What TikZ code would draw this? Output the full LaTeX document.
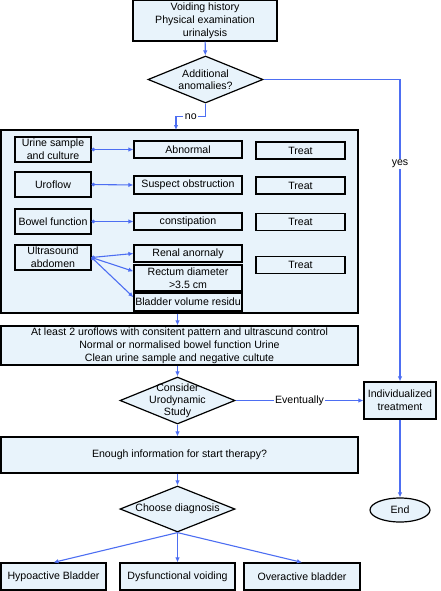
\documentclass[tikz,border=0pt]{standalone}
\usepackage{fontspec}
\setmainfont{Liberation Sans}
\usetikzlibrary{shapes.geometric,arrows.meta}
\definecolor{boxfill}{HTML}{E8F3FB}
\definecolor{flowblue}{HTML}{4D6EF2}
\tikzset{
  box/.style={draw=black, line width=1.2pt, fill=boxfill, align=center, inner sep=0pt,
    font=\fontsize{10.6}{12.8}\selectfont},
  exam/.style={box, minimum width=76pt, minimum height=25pt},
  finding/.style={box, minimum width=108pt, minimum height=17pt},
  treat/.style={box, minimum width=89pt, minimum height=17pt},
  decision/.style={draw=black, line width=1.2pt, fill=boxfill, diamond, inner sep=0pt,
    minimum width=115pt, minimum height=47pt},
  dtext/.style={align=center, inner sep=0pt, font=\fontsize{10.6}{12}\selectfont},
  conn/.style={flowblue, line width=1.1pt, -{Latex[length=5pt,width=4.5pt]}},
  dotconn/.style={conn, {Circle[length=3.5pt]}-{Latex[length=5pt,width=4.5pt]}},
  lbl/.style={fill=white, inner sep=1.5pt, text=black, font=\fontsize{10.6}{12.8}\selectfont}
}
\begin{document}
\begin{tikzpicture}[x=1pt,y=-1pt]
  \useasboundingbox (0,0) rectangle (440,591);
  % Start and first question
  \node[box, minimum width=144pt, minimum height=41pt] (history) at (205,20.5)
    {Voiding history\\Physical examination\\urinalysis};
  \node[decision, label={[dtext]center:Additional\\anomalies?}] (anomalies) at (205.5,79.5) {};
  \coordinate (noend) at (176,130);
  % Examinations block
  \node[box, minimum width=357pt, minimum height=183pt] (exams) at (179.5,221.5) {};
  \node[exam] (urine) at (53,149.5) {Urine sample\\and culture};
  \node[exam] (uroflow) at (53,184.5) {Uroflow};
  \node[exam] (bowel) at (53,221.5) {Bowel function};
  \node[exam] (ultra) at (53,257.5) {Ultrasound\\abdomen};
  \node[finding] (abnormal) at (188,149.5) {Abnormal};
  \node[finding, minimum height=18pt] (obstruct) at (188,185) {Suspect obstruction};
  \node[finding] (constip) at (188,221.5) {constipation};
  \node[finding] (renal) at (188,253.5) {Renal anornaly};
  \node[finding, minimum height=26pt] (rectum) at (188,278) {Rectum diameter\\>3.5 cm};
  \node[finding, minimum height=18pt] (bladder) at (188,302) {Bladder volume residu};
  \foreach \i/\y in {1/150.5, 2/185.5, 3/222, 4/265}
    \node[treat] (treat\i) at (300.5,\y) {Treat};
  % Findings
  \draw[dotconn] (urine.east) -- (abnormal.west);
  \draw[dotconn] (uroflow.east) -- (obstruct.west);
  \draw[dotconn] (bowel.east) -- (constip.west);
  \draw[dotconn] (ultra.east) -- (renal.west);
  \draw[dotconn] (ultra.east) -- (rectum.173);
  \draw[dotconn] (ultra.east) -- (bladder.175);
  % Lower part of the flow
  \node[box, minimum width=357pt, minimum height=39pt] (criteria) at (179.5,345.5)
    {At least 2 uroflows with consitent pattern and ultrascund control\\
     Normal or normalised bowel function Urine\\
     Clean urine sample and negative cultute};
  \node[decision, label={[dtext]center:Consider\\Urodynamic\\Study}] (urodyn) at (177.5,400.5) {};
  \node[box, minimum width=357pt, minimum height=36pt] (therapy) at (179.5,455)
    {Enough information for start therapy?};
  \node[decision, minimum height=46pt, label={[dtext]center:Choose diagnosis}] (diagnosis) at (177.5,509) {};
  \node[box, minimum width=105pt, minimum height=27pt] (hypo) at (53.5,576.5) {Hypoactive Bladder};
  \node[box, minimum width=115pt, minimum height=27pt] (dysfunc) at (177.5,576.5) {Dysfunctional voiding};
  \node[box, minimum width=116pt, minimum height=27pt] (overact) at (302,576.5) {Overactive bladder};
  % Right branch
  \node[box, minimum width=72pt, minimum height=37pt] (indiv) at (400,400.5) {Individualized\\treatment};
  \node[box, ellipse, minimum width=60pt, minimum height=24pt] (endnode) at (400,510) {End};
  % Connectors
  \draw[conn] (history) -- (anomalies);
  \draw[conn] (anomalies.south) -- ++(0,13) -| node[lbl, pos=0.25] {no} (noend);
  \draw[conn] (anomalies.east) -| node[lbl, pos=0.64] {yes} (indiv.north);
  \draw[conn] (exams.south -| urodyn) -- (criteria.north -| urodyn);
  \draw[conn] (criteria.south -| urodyn) -- (urodyn.north);
  \draw[conn] (urodyn.east) -- node[lbl] {Eventually} (indiv.west);
  \draw[conn] (urodyn.south) -- (therapy.north -| urodyn);
  \draw[conn] (therapy.south -| urodyn) -- (diagnosis.north);
  \draw[conn] (diagnosis.south) -- (hypo.north);
  \draw[conn] (diagnosis.south) -- (dysfunc.north);
  \draw[conn] (diagnosis.south) -- (overact.north);
  \draw[conn] (indiv.south) -- (endnode.north);
\end{tikzpicture}
\end{document}
